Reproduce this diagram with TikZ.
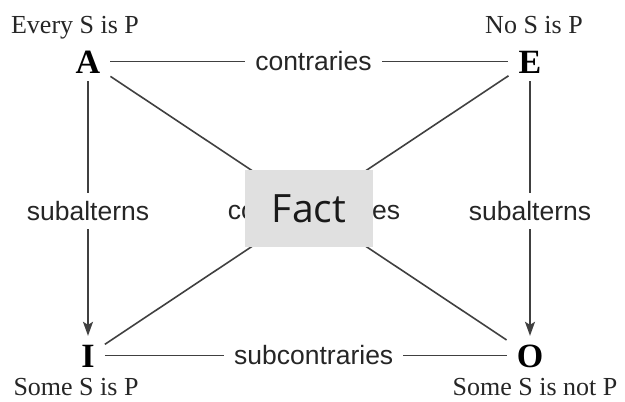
\documentclass[tikz,border=0pt]{standalone}
\usepackage{fontspec}
\setmainfont{Liberation Serif}
\setsansfont{Liberation Sans}
\newfontfamily\factfont{Open Sans}
\usetikzlibrary{arrows.meta, positioning}
\definecolor{factgray}{RGB}{224,224,224}
\tikzstyle{letter} = [font=\fontsize{34}{34}\selectfont\bfseries, text height=23pt, text depth=0pt, inner xsep=10pt, inner ysep=8pt, anchor=base]
\tikzstyle{sentence} = [font=\fontsize{26}{26}\selectfont, anchor=base, inner sep=0pt, text=black!85]
\tikzstyle{rel} = [font=\sffamily\fontsize{26.5}{26.5}\selectfont, fill=white, inner xsep=10pt, inner ysep=8pt, text=black!85]
\tikzstyle{fact} = [rectangle, fill=factgray, minimum width=128pt, minimum height=77pt, inner sep=0pt, font=\factfont\fontsize{39}{39}\selectfont, text=black!90]
\tikzstyle{link} = [line width=1.6pt, draw=black!75]
\tikzstyle{arrow} = [link, -{Stealth[length=14pt, width=10pt, inset=3pt]}]

\begin{document}
\begin{tikzpicture}[x=1pt, y=-1pt]
    \useasboundingbox (0,0) rectangle (625,402);

    \node (A) [letter] at (88,73) {A};
    \node (E) [letter] at (530,73) {E};
    \node (I) [letter] at (88,367) {I};
    \node (O) [letter] at (530,367) {O};

    \node (sA) [sentence] at (75,33) {Every S is P};
    \node (sE) [sentence] at (534,33) {No S is P};
    \node (sI) [sentence] at (76,395) {Some S is P};
    \node (sO) [sentence] at (535,395) {Some S is not P};

    \draw [link] (A) -- node[rel, pos=0.51] {contraries} (E);
    \draw [link] (I) -- node[rel, pos=0.52] {subcontraries} (O);
    \draw [arrow] (A) -- node[rel, pos=0.51] {subalterns} (I);
    \draw [arrow] (E) -- node[rel, pos=0.51] {subalterns} (O);
    \draw [link] (A) -- (O);
    \draw [link] (E) -- (I);

    \node (contra) [rel] at (314,210.5) {contradictories};
    \node (fact) [fact] at (309,208.5) {Fact};
\end{tikzpicture}
\end{document}
